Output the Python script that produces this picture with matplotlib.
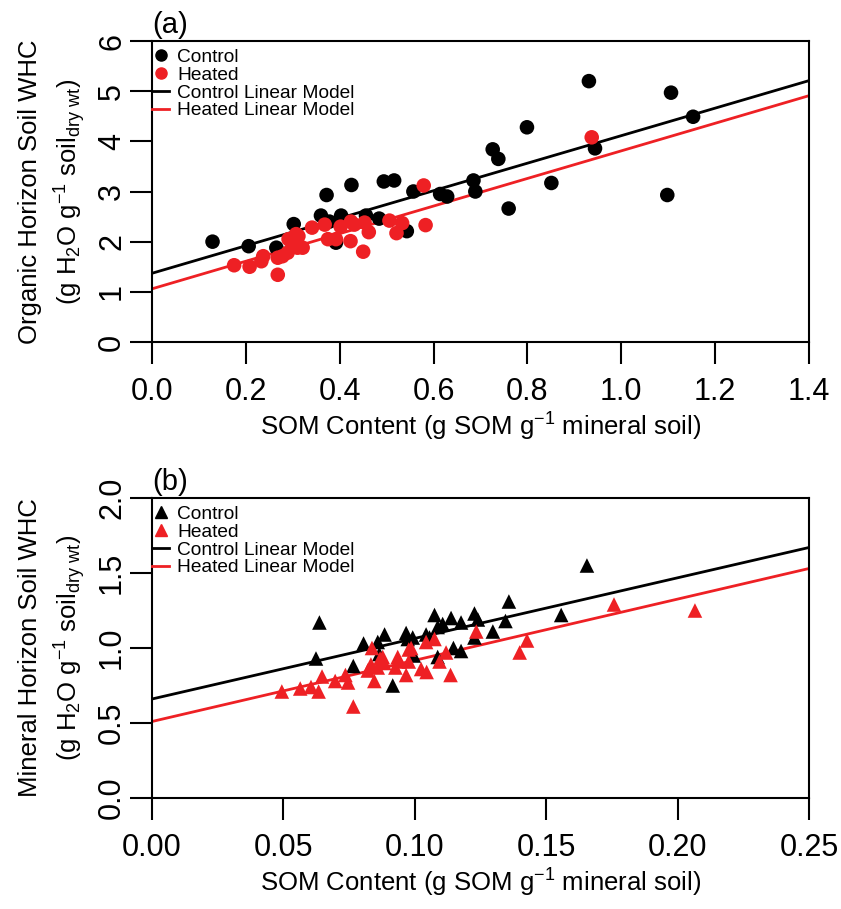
import numpy as np
import matplotlib
matplotlib.use("Agg")
import matplotlib.pyplot as plt
from matplotlib.lines import Line2D

plt.rcParams['font.family'] = ['Liberation Sans', 'DejaVu Sans']
plt.rcParams['mathtext.fontset'] = 'custom'
plt.rcParams['mathtext.rm'] = 'Liberation Sans'
plt.rcParams['mathtext.it'] = 'Liberation Sans'
plt.rcParams['mathtext.default'] = 'regular'

# Panel (a): organic horizon
org_ctrl_som = [0.129, 0.206, 0.265, 0.302, 0.360, 0.372, 0.378, 0.392, 0.403, 0.425,
                0.456, 0.484, 0.494, 0.516, 0.543, 0.557, 0.614, 0.629, 0.685, 0.689,
                0.726, 0.738, 0.760, 0.799, 0.851, 0.931, 0.944, 1.098, 1.106, 1.153]
org_ctrl_whc = [2.00, 1.91, 1.88, 2.35, 2.52, 2.93, 2.40, 1.98, 2.52, 3.13,
                2.52, 2.46, 3.20, 3.22, 2.21, 3.00, 2.95, 2.90, 3.22, 3.00,
                3.84, 3.65, 2.66, 4.28, 3.17, 5.20, 3.86, 2.93, 4.97, 4.49]
org_heat_som = [0.175, 0.208, 0.233, 0.237, 0.268, 0.268, 0.278, 0.289, 0.291, 0.299,
                0.307, 0.312, 0.321, 0.310, 0.341, 0.368, 0.375, 0.392, 0.402, 0.423,
                0.424, 0.431, 0.450, 0.453, 0.462, 0.506, 0.521, 0.533, 0.579, 0.583,
                0.937]
org_heat_whc = [1.53, 1.50, 1.61, 1.71, 1.34, 1.68, 1.71, 1.78, 2.05, 1.95,
                2.15, 2.11, 1.88, 1.88, 2.28, 2.34, 2.05, 2.05, 2.30, 2.01,
                2.40, 2.34, 1.80, 2.38, 2.19, 2.42, 2.17, 2.37, 3.12, 2.33,
                4.08]
org_ctrl_fit = (1.37, 2.743)   # intercept, slope
org_heat_fit = (1.06, 2.750)

# Panel (b): mineral horizon
min_ctrl_som = [0.0637, 0.0624, 0.0766, 0.0805, 0.0859, 0.0865, 0.0885, 0.0916, 0.0967, 0.0973,
                0.0992, 0.0996, 0.1043, 0.1056, 0.1075, 0.1087, 0.1106, 0.1087, 0.1138, 0.1147,
                0.1176, 0.1176, 0.1227, 0.1240, 0.1227, 0.1297, 0.1345, 0.1358, 0.1557, 0.1655]
min_ctrl_whc = [1.17, 0.93, 0.88, 1.03, 1.04, 0.96, 1.09, 0.75, 1.10, 1.06,
                1.07, 0.95, 1.09, 1.07, 1.22, 1.14, 1.16, 0.94, 1.20, 1.00,
                1.17, 0.98, 1.23, 1.19, 1.07, 1.11, 1.18, 1.31, 1.22, 1.55]
min_heat_som = [0.0494, 0.0564, 0.0605, 0.0634, 0.0647, 0.0697, 0.0736, 0.0746, 0.0766, 0.0821,
                0.0837, 0.0846, 0.0833, 0.0859, 0.0868, 0.0878, 0.0884, 0.0926, 0.0935, 0.0941,
                0.0967, 0.0977, 0.0977, 0.0986, 0.1024, 0.1045, 0.1043, 0.1075, 0.1094, 0.1119,
                0.1136, 0.1234, 0.1399, 0.1427, 0.1758, 0.2066]
min_heat_whc = [0.71, 0.73, 0.74, 0.71, 0.81, 0.78, 0.82, 0.77, 0.61, 0.85,
                1.00, 0.78, 0.89, 0.87, 0.93, 0.94, 0.90, 0.87, 0.94, 0.91,
                0.82, 0.91, 0.99, 1.00, 0.86, 0.84, 1.04, 1.06, 0.91, 0.97,
                0.82, 1.11, 0.97, 1.05, 1.29, 1.25]
min_ctrl_fit = (0.66, 4.04)
min_heat_fit = (0.51, 4.08)

RED = '#ee2024'

fig = plt.figure(figsize=(8.41, 9.09), dpi=100)
ax_a = fig.add_axes([152 / 841, (909 - 342) / 909, (809 - 152) / 841, (342 - 41) / 909])
ax_b = fig.add_axes([152 / 841, (909 - 798) / 909, (809 - 152) / 841, (798 - 498) / 909])


def style_axes(ax, xlim, ylim, xticks, yticks, xfmt, yfmt):
    ax.set_xlim(*xlim)
    ax.set_ylim(*ylim)
    ax.set_xticks(xticks)
    ax.set_yticks(yticks)
    ax.set_xticklabels([xfmt.format(t) for t in xticks])
    ax.set_yticklabels([yfmt.format(t) for t in yticks], rotation=90, va='center')
    ax.tick_params(direction='out', length=16, width=1.5, labelsize=22)
    ax.tick_params(axis='x', pad=9)
    ax.tick_params(axis='y', pad=2)
    for s in ax.spines.values():
        s.set_linewidth(1.5)


def draw_panel(ax, cx, cy, hx, hy, cfit, hfit, marker, ms, xmax):
    xs = np.array([0.0, xmax])
    ax.plot(xs, cfit[0] + cfit[1] * xs, color='black', lw=2, zorder=2)
    ax.plot(xs, hfit[0] + hfit[1] * xs, color=RED, lw=2, zorder=2)
    ax.scatter(cx, cy, s=ms, marker=marker, color='black', edgecolors='none', zorder=3)
    ax.scatter(hx, hy, s=ms, marker=marker, color=RED, edgecolors='none', zorder=3)
    handles = [
        Line2D([], [], marker=marker, color='black', ls='none', markersize=8),
        Line2D([], [], marker=marker, color=RED, ls='none', markersize=8),
        Line2D([], [], color='black', lw=2),
        Line2D([], [], color=RED, lw=2),
    ]
    labels = ['Control', 'Heated', 'Control Linear Model', 'Heated Linear Model']
    ax.legend(handles, labels, loc='upper left', bbox_to_anchor=(0.0, 0.975),
              frameon=False, fontsize=13.8,
              handlelength=0.9, handletextpad=0.4, labelspacing=0.02,
              borderaxespad=0.0, borderpad=0.0)


draw_panel(ax_a, org_ctrl_som, org_ctrl_whc, org_heat_som, org_heat_whc,
           org_ctrl_fit, org_heat_fit, 'o', 110, 1.4)
style_axes(ax_a, (0, 1.4), (0, 6), [0.0, 0.2, 0.4, 0.6, 0.8, 1.0, 1.2, 1.4],
           [0, 1, 2, 3, 4, 5, 6], '{:.1f}', '{:d}')

draw_panel(ax_b, min_ctrl_som, min_ctrl_whc, min_heat_som, min_heat_whc,
           min_ctrl_fit, min_heat_fit, '^', 110, 0.25)
style_axes(ax_b, (0, 0.25), (0, 2.0), [0.00, 0.05, 0.10, 0.15, 0.20, 0.25],
           [0.0, 0.5, 1.0, 1.5, 2.0], '{:.2f}', '{:.1f}')

xlab = 'SOM Content (g SOM g$^{-1}$ mineral soil)'
ylab2 = '(g H$_2$O g$^{-1}$ soil$_{dry\\ wt}$)'
for ax in (ax_a, ax_b):
    ax.set_xlabel(xlab, fontsize=18.5, labelpad=3)

fig.text(30 / 841, (909 - 192) / 909, 'Organic Horizon Soil WHC', rotation=90,
         ha='center', va='center', fontsize=18.5)
fig.text(70 / 841, (909 - 192) / 909, ylab2, rotation=90,
         ha='center', va='center', fontsize=18.5)
fig.text(30 / 841, (909 - 648) / 909, 'Mineral Horizon Soil WHC', rotation=90,
         ha='center', va='center', fontsize=18.5)
fig.text(70 / 841, (909 - 648) / 909, ylab2, rotation=90,
         ha='center', va='center', fontsize=18.5)

ax_a.text(0.0, 1.005, '(a)', transform=ax_a.transAxes, fontsize=21, ha='left', va='bottom')
ax_b.text(0.0, 1.005, '(b)', transform=ax_b.transAxes, fontsize=21, ha='left', va='bottom')

fig.savefig('out.png', dpi=100)
